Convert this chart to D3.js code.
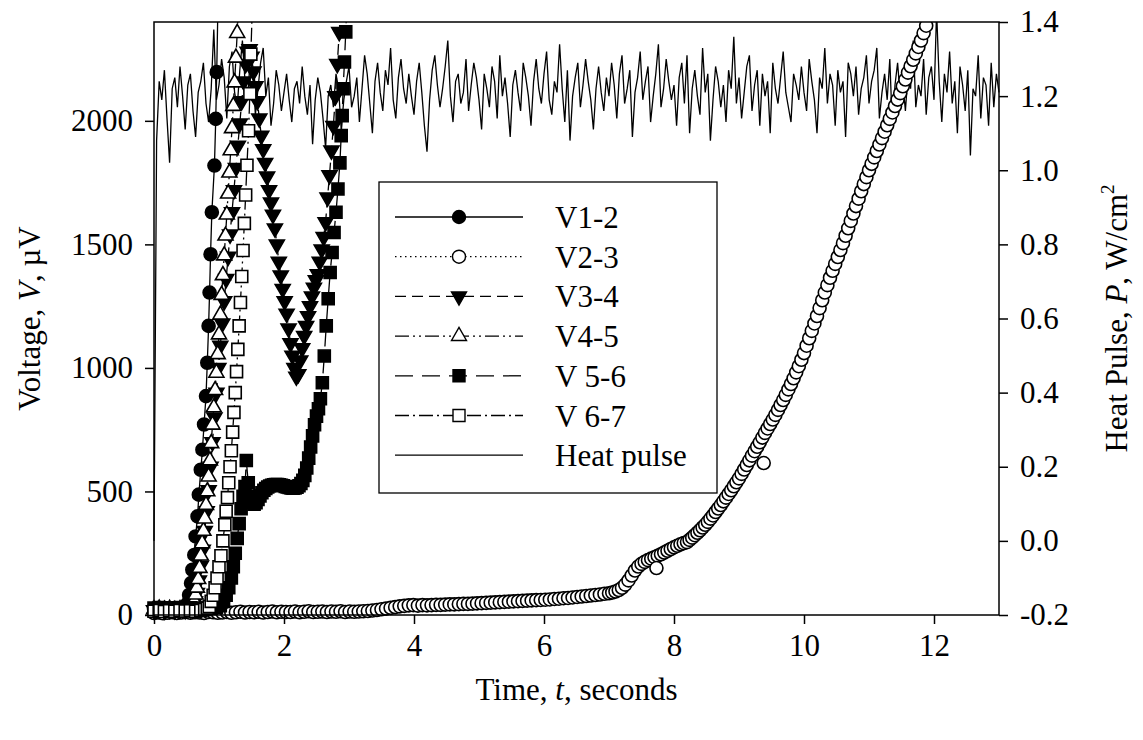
<!DOCTYPE html>
<html>
<head>
<meta charset="utf-8">
<script src="https://cdn.jsdelivr.net/npm/d3@7"></script>
<style>
html,body{margin:0;padding:0;background:#fff;}
svg{display:block;}
text{font-family:"Liberation Serif","Times New Roman",serif;fill:#000;}
</style>
</head>
<body>
<svg id="chart" width="1143" height="740"></svg>
<script>
// ---------------- data ----------------
const xTicks = [0, 2, 4, 6, 8, 10, 12];
const yTicks = [0, 500, 1000, 1500, 2000];
const y2Ticks = [-0.2, 0.0, 0.2, 0.4, 0.6, 0.8, 1.0, 1.2, 1.4];
const seriesNames = ["V1-2", "V2-3", "V3-4", "V4-5", "V 5-6", "V 6-7", "Heat pulse"];

const v12 = [[0.00,25],[0.06,28],[0.12,22],[0.18,26],[0.24,24],[0.30,27],[0.36,23],[0.42,26],[0.48,30],[0.51,45],
  [0.54,81],[0.57,129],[0.59,183],[0.62,243],[0.64,318],[0.67,399],[0.69,487],[0.72,588],[0.745,669],[0.77,771],
  [0.80,886],[0.82,1021],[0.84,1170],[0.855,1305],[0.87,1460],[0.89,1630],[0.93,1819],[0.95,2008],[0.965,2197],[0.99,2560]];

// V2-3, flat part: one value every v23FlatStep seconds from t = 0
const v23FlatStep = 0.07;
const v23Flat = [8,10,7,9,11,8,10,12,9,11,10,8,12,11,9,
  10,12,9,11,13,10,12,11,13,10,12,14,11,13,12,
  12,14,11,13,15,12,13,14,12,14,13,15,12,14,13,
  14,15,16,18,20,23,26,29,32,35,37,39,40,38,40,
  39,40,41,41,42,43,43,44,45,45,46,47,48,49,50,
  51,52,53,54,55,56,57,58,59,60,61,62,63,65,66,
  68,69,71,73,75,77,79,81,83,86,88];
// V2-3, rising part
const v23Rise = [
  [7.05,91],[7.10,95],[7.15,101],[7.20,110],[7.25,123],[7.30,140],[7.35,160],[7.40,180],[7.45,196],[7.50,207],
  [7.55,215],[7.60,222],[7.65,228],[7.70,234],[7.75,240],[7.80,246],[7.85,253],[7.90,260],[7.95,267],[8.00,274],
  [8.05,280],[8.10,286],[8.15,291],
  [8.20,295],[8.24,304],[8.28,313],[8.32,323],[8.36,333],[8.40,343],[8.44,354],[8.48,365],[8.52,377],[8.56,390],
  [8.60,403],[8.64,417],[8.68,431],[8.72,445],[8.76,460],[8.80,475],[8.84,490],[8.88,505],[8.92,521],[8.96,537],
  [9.00,553],[9.04,571],[9.08,589],[9.12,607],[9.16,626],[9.20,645],[9.24,663],[9.28,681],[9.32,699],[9.36,718],
  [9.40,737],[9.44,755],[9.48,773],[9.52,791],[9.56,810],[9.60,830],[9.64,850],[9.68,870],[9.72,891],[9.76,913],
  [9.80,935],[9.84,958],[9.88,982],[9.92,1007],[9.96,1033],[10.00,1060],[10.04,1090],[10.08,1120],[10.12,1150],[10.16,1180],
  [10.20,1210],[10.24,1242],[10.28,1274],[10.32,1305],[10.36,1335],[10.40,1365],[10.44,1393],[10.48,1421],[10.52,1449],[10.56,1477],
  [10.60,1505],[10.64,1535],[10.68,1565],[10.72,1595],[10.76,1625],[10.80,1655],[10.84,1685],[10.88,1715],[10.92,1744],[10.96,1772],
  [11.00,1800],[11.04,1826],[11.08,1852],[11.12,1878],[11.16,1904],[11.20,1930],[11.24,1956],[11.28,1982],[11.32,2008],[11.36,2034],
  [11.40,2060],[11.44,2086],[11.48,2112],[11.52,2140],[11.56,2167],[11.60,2195],[11.64,2221],[11.68,2247],[11.72,2273],[11.76,2299],
  [11.80,2325],[11.84,2355],[11.88,2385]];
const v23Extra = [[7.73,190],[9.38,615]];

const v34 = [[0.00,20],[0.08,22],[0.16,18],[0.24,21],[0.32,19],[0.40,22],[0.48,20],[0.56,24],
  [0.60,30],[0.63,55],[0.66,90],[0.69,140],[0.72,200],[0.75,265],[0.78,340],[0.81,420],[0.84,505],[0.87,600],
  [0.90,700],[0.93,800],[0.96,900],[0.99,1000],[1.02,1090],[1.05,1180],[1.08,1270],[1.11,1360],[1.14,1450],[1.17,1540],
  [1.20,1630],[1.23,1720],[1.26,1810],[1.29,1900],[1.32,1990],[1.35,2080],[1.38,2160],[1.41,2230],[1.44,2280],[1.47,2290],
  [1.50,2260],[1.53,2200],[1.56,2140],[1.59,2080],[1.62,2010],[1.65,1940],[1.68,1885],[1.71,1830],[1.74,1775],[1.77,1720],
  [1.80,1670],[1.83,1620],[1.86,1565],[1.89,1500],[1.92,1430],[1.95,1375],[1.98,1320],[2.01,1270],[2.04,1220],[2.07,1160],
  [2.10,1100],[2.13,1050],[2.16,1000],[2.19,965],[2.22,975],[2.25,1030],[2.28,1080],[2.31,1130],[2.34,1170],[2.37,1210],
  [2.40,1250],[2.43,1290],[2.46,1325],[2.49,1355],[2.52,1380],[2.55,1430],[2.58,1480],[2.61,1530],[2.64,1590],[2.67,1690],
  [2.70,1780],[2.73,1880],[2.76,1980],[2.79,2100],[2.82,2230],[2.85,2360],[2.88,2470]];

const v45 = [[0.00,22],[0.08,25],[0.16,21],[0.24,24],[0.32,20],[0.40,23],[0.48,26],[0.55,30],
  [0.60,40],[0.62,58],[0.64,82],[0.66,110],[0.68,145],[0.70,190],[0.72,240],[0.74,290],[0.76,340],[0.78,390],
  [0.80,445],[0.82,500],[0.84,560],[0.86,625],[0.88,695],[0.90,770],[0.92,840],[0.94,910],[0.96,980],[0.98,1055],
  [1.00,1135],[1.02,1215],[1.04,1295],[1.06,1375],[1.08,1455],[1.10,1535],[1.12,1620],[1.14,1705],[1.16,1790],[1.18,1880],
  [1.20,1970],[1.22,2060],[1.24,2155],[1.26,2255],[1.28,2355],[1.30,2460]];

const v56 = [[0.00,28],[0.08,30],[0.16,25],[0.24,29],[0.32,26],[0.40,30],[0.48,27],[0.56,29],[0.64,26],[0.72,28],
  [0.80,25],[0.88,27],[0.96,30],[1.02,38],[1.07,55],[1.11,80],[1.15,110],[1.19,150],[1.22,195],[1.25,250],
  [1.28,310],[1.31,370],[1.34,430],[1.37,480],[1.40,520],[1.42,625],[1.45,535],[1.48,480],[1.51,455],[1.54,448],
  [1.57,455],[1.60,468],[1.63,482],[1.66,495],[1.69,505],[1.72,512],[1.75,518],[1.78,522],[1.81,525],[1.84,527],
  [1.87,528],[1.90,528],[1.93,527],[1.96,525],[1.99,523],[2.02,520],[2.05,518],[2.08,516],[2.11,514],[2.14,513],
  [2.17,514],[2.20,517],[2.23,523],[2.26,532],[2.29,545],[2.32,565],[2.35,595],[2.38,635],[2.41,680],[2.44,725],
  [2.47,770],[2.50,805],[2.53,835],[2.56,875],[2.59,940],[2.62,1048],[2.65,1170],[2.68,1280],[2.71,1386],[2.74,1467],
  [2.77,1548],[2.80,1630],[2.83,1724],[2.86,1830],[2.88,1940],[2.895,2021],[2.91,2130],[2.93,2238],[2.95,2360],[2.97,2480]];

const v67 = [[0.00,15],[0.08,18],[0.16,14],[0.24,17],[0.32,15],[0.40,18],[0.48,16],[0.56,17],[0.64,15],[0.72,18],
  [0.78,22],[0.82,28],[0.85,34],[0.88,55],[0.91,80],[0.94,110],[0.97,150],[1.00,195],[1.03,240],[1.06,300],
  [1.09,365],[1.11,420],[1.13,475],[1.15,535],[1.17,600],[1.19,665],[1.21,740],[1.23,820],[1.25,900],[1.27,985],
  [1.29,1075],[1.31,1170],[1.33,1265],[1.35,1370],[1.37,1475],[1.39,1585],[1.41,1700],[1.43,1820],[1.455,1960],[1.475,2110],
  [1.49,2270],[1.52,2520]];

const heatStep = 0.04; // seconds between heat-pulse samples, from t = 0
const heatPulse = [
  0.00,1.08,1.24,1.19,1.27,1.14,1.02,1.22,1.25,1.17,1.28,1.20,1.11,1.23,1.26,1.16,1.09,1.21,1.24,1.29,1.18,1.13,1.22,1.38,1.19,
  1.23,1.30,1.25,1.14,1.28,1.32,1.21,1.17,1.27,1.35,1.24,1.19,1.30,1.26,1.15,1.22,1.29,1.33,1.20,1.25,1.12,1.18,1.27,1.23,1.16,
  1.21,1.26,1.19,1.13,1.22,1.24,1.18,1.28,1.20,1.15,1.23,1.07,1.19,1.25,1.21,1.14,1.06,1.20,1.23,1.17,1.26,1.22,1.11,1.19,1.24,
  1.28,1.17,1.20,1.25,1.13,1.22,1.31,1.26,1.18,1.10,1.24,1.29,1.21,1.16,1.27,1.23,1.33,1.19,1.14,1.25,1.30,1.22,1.18,1.26,1.20,
  1.15,1.24,1.29,1.21,1.12,1.05,1.19,1.27,1.31,1.23,1.17,1.22,1.28,1.35,1.20,1.13,1.24,1.26,1.18,1.21,1.30,1.16,1.23,1.29,1.25,
  1.19,1.11,1.26,1.22,1.17,1.28,1.24,1.14,1.31,1.20,1.25,1.18,1.09,1.23,1.27,1.21,1.16,1.29,1.25,1.20,1.12,1.24,1.30,1.22,1.18,
  1.26,1.32,1.19,1.15,1.24,1.21,1.34,1.22,1.13,1.27,1.08,1.20,1.25,1.29,1.17,1.23,1.30,1.24,1.19,1.11,1.22,1.28,1.21,1.16,1.25,
  1.20,1.29,1.23,1.14,1.26,1.31,1.18,1.22,1.27,1.09,1.21,1.25,1.32,1.19,1.24,1.28,1.13,1.20,1.26,1.34,1.17,1.22,1.30,1.24,1.19,
  1.23,1.12,1.25,1.29,1.18,1.31,1.10,1.22,1.27,1.20,1.15,1.33,1.21,1.26,1.08,1.19,1.28,1.24,1.17,1.23,1.13,1.27,1.22,1.36,1.18,
  1.25,1.14,1.21,1.28,1.31,1.16,1.23,1.27,1.12,1.26,1.20,1.24,1.10,1.29,1.22,1.18,1.25,1.32,1.21,1.17,1.13,1.26,1.23,1.19,1.28,
  1.21,1.16,1.30,1.24,1.19,1.10,1.25,1.22,1.33,1.18,1.26,1.23,1.12,1.27,1.21,1.24,1.09,1.29,1.26,1.20,1.28,1.15,1.22,1.25,1.31,
  1.18,1.24,1.27,1.33,1.14,1.21,1.26,1.19,1.30,1.11,1.23,1.29,1.20,1.24,1.16,1.26,1.22,1.35,1.17,1.23,1.20,1.30,1.15,1.25,1.28,
  1.19,1.43,1.24,1.13,1.26,1.21,1.32,1.18,1.24,1.10,1.28,1.23,1.16,1.27,1.04,1.22,1.20,1.31,1.14,1.25,1.23,1.12,1.29,1.17,1.26,
  1.21];

// ---------------- layout ----------------
const L = 154, R = 999, T = 22, B = 615;
const FONT = 31;

const svg = d3.select("#chart");
const x = d3.scaleLinear().domain([0, 13]).range([L, R]);
const y = d3.scaleLinear().domain([0, 2400]).range([B, T]);
const y2 = d3.scaleLinear().domain([-0.2, 1.4]).range([B, T]);

svg.append("defs").append("clipPath").attr("id", "clip")
  .append("rect").attr("x", 0).attr("y", T).attr("width", R + 1).attr("height", 740 - T);

function markerPath(kind) {
  if (kind === "circle") return d3.symbol().type(d3.symbolCircle).size(Math.PI * 6.5 * 6.5)();
  if (kind === "square") { const h = 6; return `M${-h},${-h}H${h}V${h}H${-h}Z`; }
  if (kind === "tridown") { const w = 7.5, hh = 13; return `M${-w},${-hh/3}L${w},${-hh/3}L0,${2*hh/3}Z`; }
  if (kind === "triup") { const w = 7.5, hh = 13; return `M${-w},${hh/3}L${w},${hh/3}L0,${-2*hh/3}Z`; }
}

const v23 = v23Flat.map((v, i) => [i * v23FlatStep, v]).concat(v23Rise);

const series = [
  {name: seriesNames[0], data: v12, marker: "circle", fill: "#000", dash: null},
  {name: seriesNames[1], data: v23, marker: "circle", fill: "#fff", dash: "1.5,3.5", extra: v23Extra},
  {name: seriesNames[2], data: v34, marker: "tridown", fill: "#000", dash: "11,6"},
  {name: seriesNames[3], data: v45, marker: "triup", fill: "#fff", dash: "14,4,2,4,2,4"},
  {name: seriesNames[4], data: v56, marker: "square", fill: "#000", dash: "18,9"},
  {name: seriesNames[5], data: v67, marker: "square", fill: "#fff", dash: "14,4,2,4"}
];

const plot = svg.append("g").attr("clip-path", "url(#clip)");

// heat pulse (right axis)
const heatData = heatPulse.map((p, i) => [i * heatStep, p]);
plot.append("path").datum(heatData)
  .attr("fill", "none").attr("stroke", "#000").attr("stroke-width", 1.3)
  .attr("d", d3.line().x(d => x(d[0])).y(d => y2(d[1])));

const line = d3.line().x(d => x(d[0])).y(d => y(d[1]));
series.forEach(s => {
  plot.append("path").datum(s.data)
    .attr("fill", "none").attr("stroke", "#000").attr("stroke-width", 1.3)
    .attr("stroke-dasharray", s.dash)
    .attr("d", line);
  const pts = s.extra ? s.data.concat(s.extra) : s.data;
  plot.append("g").selectAll("path").data(pts).join("path")
    .attr("d", markerPath(s.marker))
    .attr("transform", d => `translate(${x(d[0])},${y(d[1])})`)
    .attr("fill", s.fill).attr("stroke", "#000").attr("stroke-width", 1.6);
});

// frame
svg.append("rect").attr("x", L).attr("y", T).attr("width", R - L).attr("height", B - T)
  .attr("fill", "none").attr("stroke", "#000").attr("stroke-width", 1.5);

// axes
function styleAxis(g) {
  g.select(".domain").remove();
  g.selectAll(".tick line").attr("stroke", "#000").attr("stroke-width", 1.5);
  g.selectAll(".tick text").attr("font-size", FONT)
    .attr("font-family", "'Liberation Serif','Times New Roman',serif").attr("fill", "#000");
}
svg.append("g").attr("transform", `translate(0,${B})`)
  .call(d3.axisBottom(x).tickValues(xTicks).tickSize(9).tickPadding(10).tickFormat(d3.format("d")))
  .call(styleAxis);
svg.append("g").attr("transform", `translate(${L},0)`)
  .call(d3.axisLeft(y).tickValues(yTicks).tickSize(9).tickPadding(12).tickFormat(d3.format("d")))
  .call(styleAxis);
svg.append("g").attr("transform", `translate(${R},0)`)
  .call(d3.axisRight(y2).tickValues(y2Ticks).tickSize(9).tickPadding(12).tickFormat(d => d.toFixed(1)))
  .call(styleAxis);

// axis titles
const xt = svg.append("text").attr("x", (L + R) / 2).attr("y", 700)
  .attr("text-anchor", "middle").attr("font-size", FONT);
xt.append("tspan").text("Time, ");
xt.append("tspan").attr("font-style", "italic").text("t");
xt.append("tspan").text(", seconds");

const yt = svg.append("text").attr("transform", `translate(40,${(T + B) / 2}) rotate(-90)`)
  .attr("text-anchor", "middle").attr("font-size", FONT);
yt.append("tspan").text("Voltage, ");
yt.append("tspan").attr("font-style", "italic").text("V");
yt.append("tspan").text(", \u00b5V");

const y2t = svg.append("text").attr("transform", `translate(1127,${(T + B) / 2}) rotate(-90)`)
  .attr("text-anchor", "middle").attr("font-size", FONT);
y2t.append("tspan").text("Heat Pulse, ");
y2t.append("tspan").attr("font-style", "italic").text("P");
y2t.append("tspan").text(", W/cm");
y2t.append("tspan").attr("font-size", 19).attr("dy", -13).text("2");

// legend
const lg = svg.append("g");
lg.append("rect").attr("x", 379).attr("y", 182).attr("width", 717 - 379).attr("height", 493 - 182)
  .attr("fill", "#fff").attr("stroke", "#000").attr("stroke-width", 1.3);
const legendItems = series.concat([{name: seriesNames[6], marker: null, dash: null}]);
legendItems.forEach((s, i) => {
  const cy = 217 + i * 39.7;
  lg.append("line").attr("x1", 395).attr("x2", 523).attr("y1", cy).attr("y2", cy)
    .attr("stroke", "#000").attr("stroke-width", 1.3).attr("stroke-dasharray", s.dash);
  if (s.marker) {
    lg.append("path").attr("d", markerPath(s.marker)).attr("transform", `translate(459,${cy})`)
      .attr("fill", s.fill).attr("stroke", "#000").attr("stroke-width", 1.4);
  }
  lg.append("text").attr("x", 555).attr("y", cy + 11).attr("font-size", FONT).text(s.name);
});
</script>
</body>
</html>
